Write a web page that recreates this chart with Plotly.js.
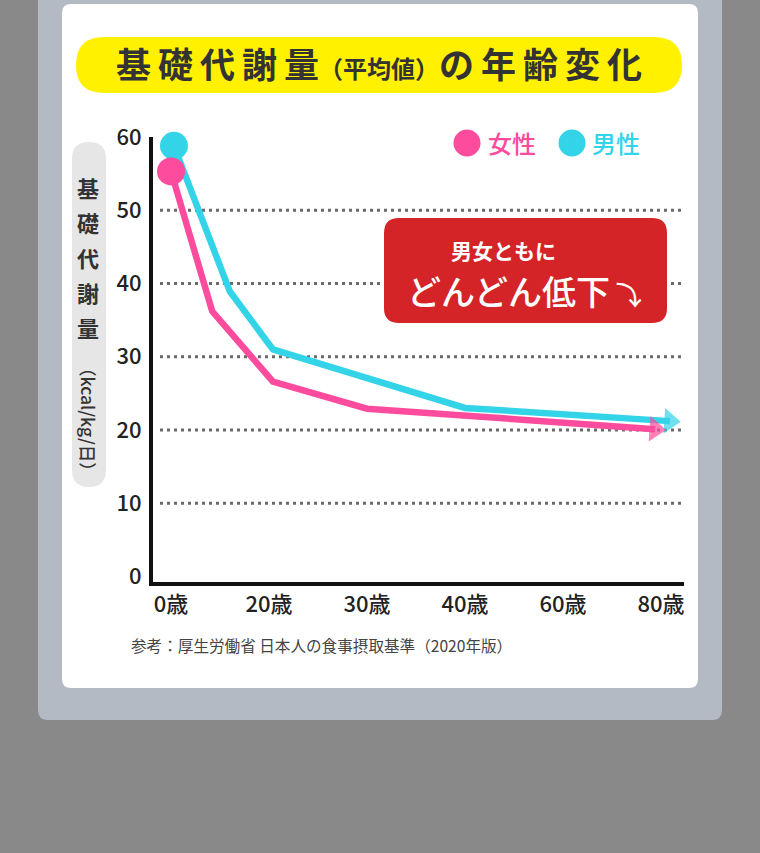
<!DOCTYPE html>
<html>
<head>
<meta charset="utf-8">
<script src="https://cdn.plot.ly/plotly-3.0.1.min.js"></script>
<style>
  html, body { margin: 0; padding: 0; background: #878787; }
  #plot { width: 760px; height: 853px; }
</style>
</head>
<body>
<div id="plot"></div>
<script>
// x labels (equally spaced on the chart, not to scale)
let ageLabels = ['0歳', '20歳', '30歳', '40歳', '60歳', '80歳'];
let agePos = [0, 1, 2, 3, 4, 5];
let yTicks = [0, 10, 20, 30, 40, 50, 60];
let gridVals = [10, 20, 30, 40, 50];

// (kcal/kg/日), x as position between the labels
let femaleX = [0, 0.42, 1.04, 2.0, 4.94];
let femaleY = [55.3, 36.2, 26.6, 22.9, 20.1];
let maleX = [0.03, 0.60, 1.04, 3.0, 5.09];
let maleY = [58.8, 38.9, 31.0, 23.0, 21.2];

let yLabelChars = ['基', '礎', '代', '謝', '量'];

const W = 760, H = 853;
const pink = '#FD4C9D', cyan = '#33D3E8';
const jp = '"Noto Sans CJK JP", "Noto Sans", sans-serif';

function px(x) { return x / W; }
function py(y) { return 1 - y / H; }

// rounded rect as a path in paper coords
function roundRect(x0, y0, x1, y1, r) {
  let p = (x, y) => px(x) + ',' + py(y);
  return 'M' + p(x0 + r, y0) + ' L' + p(x1 - r, y0) + ' Q' + p(x1, y0) + ' ' + p(x1, y0 + r) +
    ' L' + p(x1, y1 - r) + ' Q' + p(x1, y1) + ' ' + p(x1 - r, y1) +
    ' L' + p(x0 + r, y1) + ' Q' + p(x0, y1) + ' ' + p(x0, y1 - r) +
    ' L' + p(x0, y0 + r) + ' Q' + p(x0, y0) + ' ' + p(x0 + r, y0) + ' Z';
}

// line with an arrow head at the end
function series(xs, ys, color) {
  let n = xs.length;
  return {
    x: xs, y: ys,
    mode: 'lines+markers',
    line: {color: color, width: 6.5},
    marker: {
      color: color,
      symbol: 'triangle-up',
      size: xs.map((_, i) => i === n - 1 ? 22 : 0),
      angleref: 'previous',
      line: {width: 0}
    },
    cliponaxis: false,
    hoverinfo: 'skip',
    showlegend: false
  };
}

// big dot at the start
function startDot(xs, ys, color) {
  return {
    x: [xs[0]], y: [ys[0]],
    mode: 'markers',
    marker: {color: color, symbol: 'circle', size: 28, line: {width: 0}},
    cliponaxis: false,
    hoverinfo: 'skip',
    showlegend: false
  };
}

let shapes = [
  {type: 'path', xref: 'paper', yref: 'paper', layer: 'below', path: roundRect(38, -10, 722, 720, 10),
    fillcolor: '#B4BAC4', line: {width: 0}},
  {type: 'path', xref: 'paper', yref: 'paper', layer: 'below', path: roundRect(62, 4, 698, 688, 9),
    fillcolor: '#FFFFFF', line: {width: 0}},
  {type: 'path', xref: 'paper', yref: 'paper', layer: 'below', path: roundRect(76, 37, 682, 93, 28),
    fillcolor: '#FFF100', line: {width: 0}},
  {type: 'path', xref: 'paper', yref: 'paper', layer: 'below', path: roundRect(72, 142, 106, 487, 17),
    fillcolor: '#E6E6E6', line: {width: 0}},
  {type: 'circle', xref: 'paper', yref: 'paper', x0: px(453.5), x1: px(480.5), y0: py(129.5), y1: py(156.5),
    fillcolor: pink, line: {width: 0}},
  {type: 'circle', xref: 'paper', yref: 'paper', x0: px(558.5), x1: px(585.5), y0: py(129.5), y1: py(156.5),
    fillcolor: cyan, line: {width: 0}}
];

gridVals.forEach(v => {
  shapes.push({type: 'line', xref: 'paper', yref: 'y', x0: px(160), x1: px(684), y0: v, y1: v,
    layer: 'below', line: {color: '#6A6A6A', width: 3, dash: '3px,4px'}});
});

shapes.push({type: 'path', xref: 'paper', yref: 'paper', layer: 'above', path: roundRect(384, 218, 667, 323, 15),
  fillcolor: '#D42427', line: {width: 0}});

let annotations = [
  {text: '女性', x: px(486), y: py(142), xref: 'paper', yref: 'paper', xanchor: 'left', yanchor: 'middle',
    showarrow: false, font: {family: jp, size: 24, color: pink, weight: 500}},
  {text: '男性', x: px(590), y: py(142), xref: 'paper', yref: 'paper', xanchor: 'left', yanchor: 'middle',
    showarrow: false, font: {family: jp, size: 24, color: cyan, weight: 500}},
  {text: '男女ともに', x: px(503), y: py(250), xref: 'paper', yref: 'paper', xanchor: 'center', yanchor: 'middle',
    showarrow: false, font: {family: jp, size: 21, color: '#FFFFFF', weight: 700}},
  {text: 'どんどん低下<span style="font-size:26px"> ⤵</span>', x: px(524), y: py(290), xref: 'paper', yref: 'paper',
    xanchor: 'center', yanchor: 'middle', showarrow: false,
    font: {family: jp, size: 34, color: '#FFFFFF', weight: 500}},
  {text: '（kcal/kg/日）', x: px(89), y: py(419), xref: 'paper', yref: 'paper', xanchor: 'center', yanchor: 'middle',
    textangle: 90, showarrow: false, font: {family: jp, size: 17.5, color: '#333333', weight: 500}},
  {text: '参考：厚生労働省 日本人の食事摂取基準（2020年版）', x: px(129), y: py(645), xref: 'paper', yref: 'paper',
    xanchor: 'left', yanchor: 'middle', showarrow: false, font: {family: jp, size: 15.6, color: '#444444'}}
];

yLabelChars.forEach((ch, i) => {
  annotations.push({text: ch, x: px(88), y: py(187 + i * 35), xref: 'paper', yref: 'paper',
    xanchor: 'center', yanchor: 'middle', showarrow: false,
    font: {family: jp, size: 22, color: '#333333', weight: 700}});
});

let titleText = '基\u2009礎\u2009代\u2009謝\u2009量<span style="font-size:24px">（平均値）</span>の\u2009年\u2009齢\u2009変\u2009化';

let layout = {
  width: W, height: H,
  margin: {l: 0, r: 0, t: 0, b: 0},
  paper_bgcolor: '#898989',
  plot_bgcolor: 'rgba(0,0,0,0)',
  title: {text: titleText, x: 0.4987, xanchor: 'center', y: py(66), yanchor: 'middle', yref: 'container',
    font: {family: jp, size: 35, color: '#333333', weight: 700}},
  xaxis: {
    domain: [px(153), px(684)],
    range: [-0.184, 5.235],
    tickmode: 'array', tickvals: agePos, ticktext: ageLabels,
    showgrid: false, zeroline: false, ticks: '',
    showline: true, linecolor: '#111111', linewidth: 4,
    ticklabelstandoff: 0,
    tickfont: {family: jp, size: 22, color: '#222222', weight: 500}
  },
  yaxis: {
    domain: [py(582), py(137)],
    range: [-0.77, 60],
    tickmode: 'array', tickvals: yTicks,
    showgrid: false, zeroline: false, ticks: '',
    showline: true, linecolor: '#111111', linewidth: 4,
    ticklabelstandoff: 3,
    tickfont: {family: jp, size: 22, color: '#222222', weight: 500}
  },
  shapes: shapes,
  annotations: annotations
};

Plotly.newPlot('plot', [
  series(maleX, maleY, cyan), startDot(maleX, maleY, cyan),
  series(femaleX, femaleY, pink), startDot(femaleX, femaleY, pink)
], layout, {displayModeBar: false, staticPlot: true});
</script>
</body>
</html>
